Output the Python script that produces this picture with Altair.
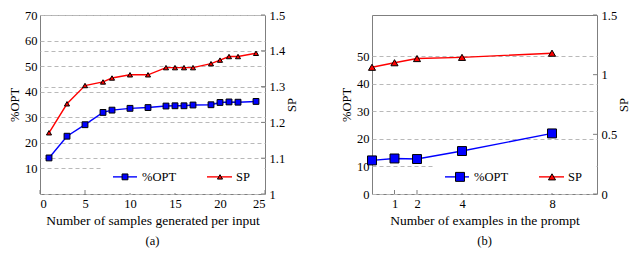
import altair as alt
import pandas as pd

# ---- data ----
a_x = [1, 3, 5, 7, 8, 10, 12, 14, 15, 16, 17, 19, 20, 21, 22, 24]
a_opt = [14.1, 22.6, 27.1, 31.9, 32.8, 33.5, 33.8, 34.4, 34.5, 34.5, 34.8, 34.9, 35.8, 36.0, 35.9, 36.2]
a_sp = [1.171, 1.252, 1.303, 1.313, 1.324, 1.333, 1.333, 1.353, 1.353, 1.353, 1.353, 1.364, 1.374, 1.384, 1.384, 1.393]

b_x = [0, 1, 2, 4, 8]
b_opt = [12.2, 12.9, 12.7, 15.6, 22.0]
b_sp = [1.062, 1.100, 1.135, 1.145, 1.180]

a_xticks = [0, 5, 10, 15, 20, 25]
a_yticks = [10, 20, 30, 40, 50, 60, 70]
a_sticks = [1.0, 1.1, 1.2, 1.3, 1.4, 1.5]
b_xticks = [1, 2, 4, 8]
b_yticks = [0, 10, 20, 30, 40, 50]
b_sticks = [0, 0.5, 1.0, 1.5]

FONT = "Liberation Serif, Times New Roman, DejaVu Serif, serif"
W, H = 225, 179
GRID = "#b9b9b9"
BOX = "#7f7f7f"


def panel(xs, opt, sp, xdom, xticks, ydom, yticks, sdom, sticks, right_grid,
          sq, tri, xtitle, caption):
    df = pd.DataFrame({"x": xs, "opt": opt, "sp": sp})
    base = alt.Chart(df)
    xs_scale = alt.Scale(domain=xdom, nice=False, zero=False)
    ys_scale = alt.Scale(domain=ydom, nice=False, zero=False)
    ss_scale = alt.Scale(domain=sdom, nice=False, zero=False)

    x_axis = alt.Axis(values=xticks, title=xtitle, orient="bottom", grid=False, ticks=False,
                      domain=False, labelPadding=3, titlePadding=4,
                      format="~r", titleFontSize=13.5)
    x_enc = alt.X("x:Q", scale=xs_scale, axis=x_axis)

    opt_line = base.mark_line(color="#0000ff", strokeWidth=1.4).encode(
        x=x_enc,
        y=alt.Y("opt:Q", scale=ys_scale,
                axis=alt.Axis(values=yticks, title="%OPT", orient="left", grid=True,
                              gridDash=[4, 3], gridColor=GRID, ticks=False, domain=False,
                              labelPadding=3, titlePadding=3, format="~r")))
    opt_pts = base.mark_point(shape="square", filled=True, fill="#0000ff", stroke="black",
                              strokeWidth=1, size=sq, opacity=1).encode(
        x=x_enc, y=alt.Y("opt:Q", scale=ys_scale, axis=None))

    sp_line = base.mark_line(color="#ff0000", strokeWidth=1.4).encode(
        x=x_enc,
        y=alt.Y("sp:Q", scale=ss_scale,
                axis=alt.Axis(values=sticks, title="SP", orient="right", grid=right_grid,
                              gridDash=[4, 3], gridColor=GRID, ticks=False, domain=False,
                              labelPadding=4, titlePadding=14, titleAngle=270,
                              format="~r")))
    sp_pts = base.mark_point(shape="triangle-up", filled=True, fill="#ff0000", stroke="black",
                             strokeWidth=1, size=tri, opacity=1).encode(
        x=x_enc, y=alt.Y("sp:Q", scale=ss_scale, axis=None))

    # inward tick marks
    xt = alt.Chart(pd.DataFrame({"x": xticks})).mark_rule(color=BOX, strokeWidth=1).encode(
        x=x_enc, y=alt.value(H), y2=alt.value(H - 4))
    st = alt.Chart(pd.DataFrame({"v": sticks})).mark_rule(color=BOX, strokeWidth=1).encode(
        y=alt.Y("v:Q", scale=ss_scale, axis=None), x=alt.value(W), x2=alt.value(W - 4))

    # legend (inside, bottom right)
    sx, sy = W / 225.0, H / 185.0
    ly = 167.3 * sy
    one = alt.Data(values=[{"k": 1}])
    box = alt.Chart(one).mark_rect(fill="white", strokeWidth=0).encode(
        x=alt.value(63 * sx), x2=alt.value(W - 1), y=alt.value(153 * sy), y2=alt.value(H - 1))
    bl = alt.Chart(one).mark_rule(color="#0000ff", strokeWidth=1.4).encode(
        x=alt.value(73 * sx), x2=alt.value(97 * sx), y=alt.value(ly))
    bs = alt.Chart(one).mark_point(shape="square", filled=True, fill="#0000ff", stroke="black",
                                   strokeWidth=1, size=sq, opacity=1).encode(
        x=alt.value(85 * sx + (3 if sq > 40 else 0)), y=alt.value(ly))
    bt = alt.Chart(one).mark_text(text="%OPT", align="left", baseline="middle", font=FONT,
                                  fontSize=12.5, color="black").encode(
        x=alt.value(102 * sx), y=alt.value(ly))
    rl = alt.Chart(one).mark_rule(color="#ff0000", strokeWidth=1.4).encode(
        x=alt.value(167 * sx), x2=alt.value(192 * sx), y=alt.value(ly))
    rs = alt.Chart(one).mark_point(shape="triangle-up", filled=True, fill="#ff0000",
                                   stroke="black", strokeWidth=1, size=tri, opacity=1).encode(
        x=alt.value(180 * sx), y=alt.value(ly))
    rt = alt.Chart(one).mark_text(text="SP", align="left", baseline="middle", font=FONT,
                                  fontSize=12.5, color="black").encode(
        x=alt.value(196 * sx), y=alt.value(ly))

    ch = alt.layer(
        opt_line, sp_line, xt, st, opt_pts, sp_pts, box, bl, bs, bt, rl, rs, rt
    ).resolve_scale(y="independent").properties(
        width=W, height=H,
        title=alt.TitleParams(caption, orient="bottom", font=FONT, fontSize=12.5,
                              fontWeight="normal", color="black", offset=8))
    return ch


left = panel(a_x, a_opt, a_sp, [0, 25], a_xticks, [0, 70], a_yticks, [1.0, 1.5], a_sticks,
             True, 34, 26, "Number of samples generated per input", "(a)")
right = panel(b_x, b_opt, b_sp, [0, 10], b_xticks, [0, 65], b_yticks, [0, 1.5], b_sticks,
              False, 80, 50, "Number of examples in the prompt", "(b)")

chart = alt.hconcat(left, right, spacing=41).properties(
    padding=0, background="white"
).configure_view(
    stroke=BOX, strokeWidth=1
).configure_axis(
    labelFont=FONT, titleFont=FONT, labelFontSize=12.5, titleFontSize=12.5,
    titleFontWeight="normal", labelColor="black", titleColor="black"
)

chart.save("out.html", embed_options={"renderer": "svg", "actions": False})
